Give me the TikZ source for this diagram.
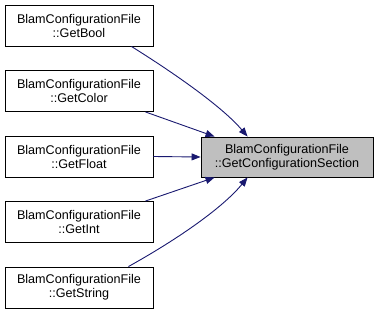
\documentclass[tikz,border=0pt]{standalone}
\usepackage{fontspec}
\setmainfont{Liberation Sans}
\usepackage{xcolor}
\usetikzlibrary{arrows.meta, positioning, calc}
\definecolor{EdgeBlue}{HTML}{191970}
\definecolor{FocusGray}{HTML}{BFBFBF}

\begin{document}
\begin{tikzpicture}[x=1pt, y=-1pt, >={Triangle[length=9pt, width=7pt]},
    fn/.style={draw=black, line width=0.9pt, fill=white, minimum width=148pt, minimum height=41pt,
               inner sep=0pt, align=center, font=\fontsize{12.6}{14}\selectfont},
    call/.style={->, EdgeBlue, line width=0.9pt}]
        \useasboundingbox (0,0) rectangle (377,313);
        % Callers on the left
        \node [fn] (getbool)   at (79,25.5)  {BlamConfigurationFile\\::GetBool};
        \node [fn] (getcolor)  at (79,91)    {BlamConfigurationFile\\::GetColor};
        \node [fn] (getfloat)  at (79,156.5) {BlamConfigurationFile\\::GetFloat};
        \node [fn] (getint)    at (79,222)   {BlamConfigurationFile\\::GetInt};
        \node [fn] (getstring) at (79,287.5) {BlamConfigurationFile\\::GetString};
        % The function that is called
        \node [fn, fill=FocusGray, minimum width=172pt, minimum height=40pt] (section) at (287,157)
              {BlamConfigurationFile\\::GetConfigurationSection};
        % Call edges
        \draw [call] ([xshift=-22pt]getbool.south east) .. controls (185,80) and (225,110) .. ([xshift=47pt]section.north west);
        \draw [call] ([xshift=-8pt]getcolor.south east) -- ([xshift=14pt]section.north west);
        \draw [call] (getfloat.east) -- (section.west);
        \draw [call] ([xshift=-8pt]getint.north east) -- ([xshift=14pt]section.south west);
        \draw [call] ([xshift=-25pt]getstring.north east) .. controls (185,235) and (225,205) .. ([xshift=47pt]section.south west);
    \end{tikzpicture}
\end{document}
